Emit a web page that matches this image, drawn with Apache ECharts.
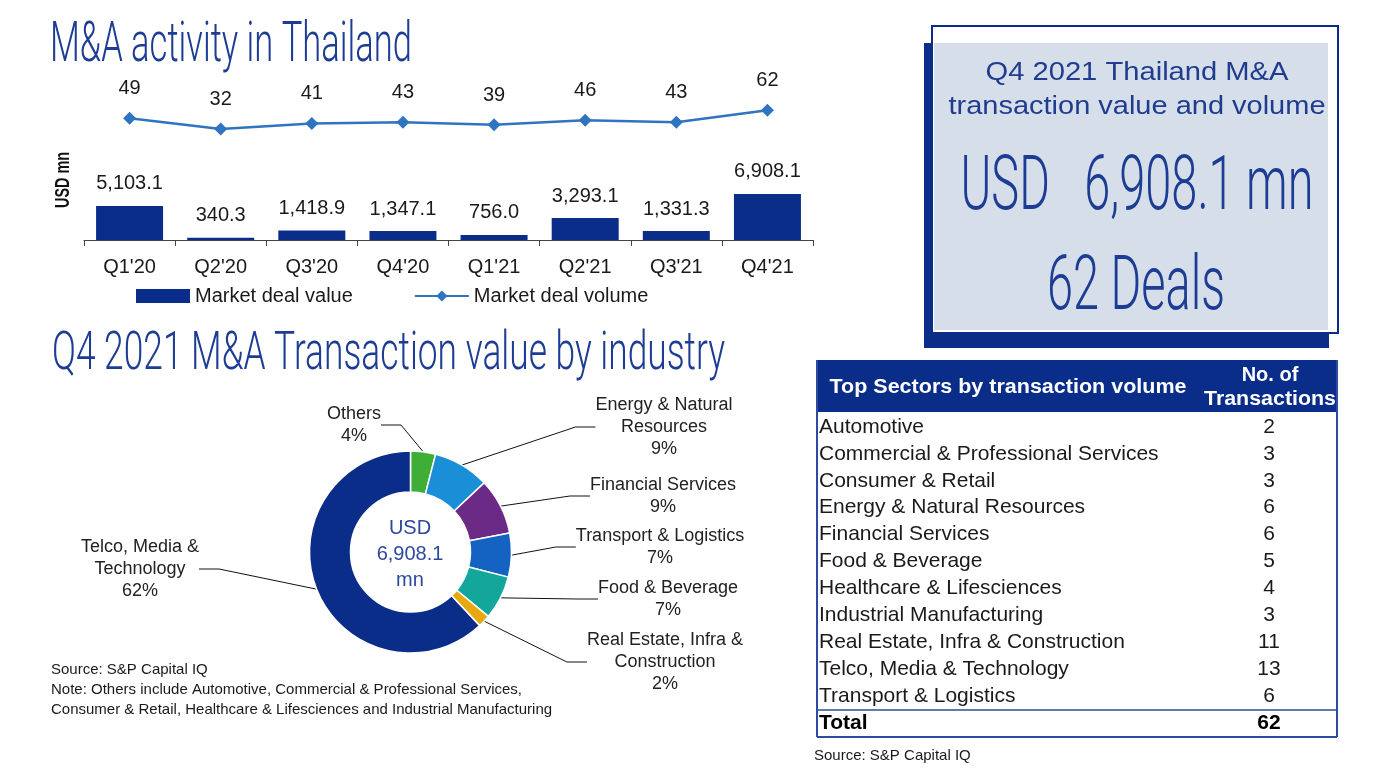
<!DOCTYPE html>
<html>
<head>
<meta charset="utf-8">
<script src="https://cdn.jsdelivr.net/npm/echarts@6/dist/echarts.min.js"></script>
<style>
html,body{margin:0;padding:0;background:#fff;}
#main{width:1383px;height:775px;}
</style>
</head>
<body>
<div id="main"></div>
<script>
// ---------- DATA ----------
const quarters = ["Q1'20", "Q2'20", "Q3'20", "Q4'20", "Q1'21", "Q2'21", "Q3'21", "Q4'21"];
const dealValue = [5103.1, 340.3, 1418.9, 1347.1, 756.0, 3293.1, 1331.3, 6908.1];
const dealVolume = [49, 32, 41, 43, 39, 46, 43, 62];

const industries = ['Others', 'Energy & Natural Resources', 'Financial Services', 'Transport & Logistics', 'Food & Beverage', 'Real Estate, Infra & Construction', 'Telco, Media & Technology'];
const industryLabelLines = [['Others'], ['Energy & Natural', 'Resources'], ['Financial Services'], ['Transport & Logistics'], ['Food & Beverage'], ['Real Estate, Infra &', 'Construction'], ['Telco, Media &', 'Technology']];
const industryShare = [4, 9, 9, 7, 7, 2, 62];
const totalValueText = '6,908.1';
const totalDealsText = '62';

const sectors = ['Automotive', 'Commercial & Professional Services', 'Consumer & Retail', 'Energy & Natural Resources', 'Financial Services', 'Food & Beverage', 'Healthcare & Lifesciences', 'Industrial Manufacturing', 'Real Estate, Infra & Construction', 'Telco, Media & Technology', 'Transport & Logistics'];
const sectorCounts = [2, 3, 3, 6, 6, 5, 4, 3, 11, 13, 6];
const sectorTotal = 62;

// ---------- STYLE ----------
const NAVY = '#0b2d8a';
const TITLE = '#1d3c94';
const LINEBLUE = '#2f74c0';
const FONT = "'Liberation Sans', Arial, sans-serif";
const pieColors = ['#3eae36', '#1a8fd8', '#6b2a86', '#1463c2', '#13a79b', '#e8a812', '#0b2d8a'];
const pieLabelPos = [[354, 425], [664, 427], [663, 496], [660, 547], [668, 599], [665, 662], [140, 569]];

const mctx = document.createElement('canvas').getContext('2d');
function fitScale(text, font, target) { mctx.font = font; return target / mctx.measureText(text).width; }

function thinText(text, x, y, size, width, align) {
  const font = '300 ' + size + 'px Roboto';
  return { type: 'text', x: x, y: y, scaleX: fitScale(text, font, width), z: 10,
    style: { text: text, font: font, fill: TITLE, align: align, textAlign: align, verticalAlign: 'middle', textVerticalAlign: 'middle' } };
}
function plainText(text, x, y, size, opts) {
  opts = opts || {};
  const weight = opts.weight || 'normal';
  const font = weight + ' ' + size + 'px ' + FONT;
  const el = { type: 'text', x: x, y: y, z: 10,
    style: { text: text, font: font, fill: opts.color || '#1a1a1a', align: opts.align || 'left', textAlign: opts.align || 'left', verticalAlign: 'middle', textVerticalAlign: 'middle' } };
  if (opts.width) el.scaleX = fitScale(text, font, opts.width);
  if (opts.rotation) el.rotation = opts.rotation;
  return el;
}

// ---------- GRAPHIC ----------
const g = [];
g.push(thinText('M&A activity in Thailand', 50, 47, 55, 362, 'left'));
g.push(thinText('Q4 2021 M&A Transaction value by industry', 52, 355, 54, 673, 'left'));
g.push(plainText('USD mn', 63, 180, 20, { weight: 'bold', rotation: Math.PI / 2, align: 'center', width: 56, color: '#111' }));

// summary box
g.push({ type: 'rect', shape: { x: 924, y: 43, width: 405, height: 305 }, style: { fill: NAVY }, z: 1 });
g.push({ type: 'rect', shape: { x: 932, y: 26, width: 406, height: 307 }, style: { fill: '#fff', stroke: NAVY, lineWidth: 2 }, z: 2 });
g.push({ type: 'rect', shape: { x: 934, y: 43, width: 394, height: 287 }, style: { fill: '#d6dee9' }, z: 3 });
g.push(plainText('Q4 2021 Thailand M&A', 1137, 73, 25, { align: 'center', width: 303, color: '#1f3c8f' }));
g.push(plainText('transaction value and volume', 1137, 107, 25, { align: 'center', width: 377, color: '#1f3c8f' }));
g.push(thinText('USD   ' + totalValueText + ' mn', 1137, 190, 76, 353, 'center'));
g.push(thinText(totalDealsText + ' Deals', 1136, 290, 76, 178, 'center'));

// pie centre text
g.push({ type: 'text', x: 410, y: 554, z: 10,
  style: { text: 'USD\n' + totalValueText + '\nmn', font: '20px ' + FONT, lineHeight: 26, fill: '#2c4a9c', align: 'center', textAlign: 'center', verticalAlign: 'middle', textVerticalAlign: 'middle' } });

// notes
g.push(plainText('Source: S&P Capital IQ', 51, 670, 15, { color: '#1a1a1a' }));
g.push(plainText('Note: Others include Automotive, Commercial & Professional Services,', 51, 690, 15, { color: '#1a1a1a' }));
g.push(plainText('Consumer & Retail, Healthcare & Lifesciences and Industrial Manufacturing', 51, 710, 15, { color: '#1a1a1a' }));
g.push(plainText('Source: S&P Capital IQ', 814, 756, 15, { color: '#1a1a1a' }));

// table
const tL = 817, tR = 1337, tTop = 360, hdrH = 52, rowH = 26.9;
const BORDER = '#2d4c9f';
g.push({ type: 'rect', shape: { x: tL, y: tTop, width: tR - tL, height: hdrH }, style: { fill: NAVY }, z: 4 });
g.push(plainText('Top Sectors by transaction volume', 1008, 387, 20, { weight: 'bold', color: '#fff', align: 'center', width: 357 }));
g.push(plainText('No. of', 1270, 375, 20, { weight: 'bold', color: '#fff', align: 'center' }));
g.push(plainText('Transactions', 1270, 399, 20, { weight: 'bold', color: '#fff', align: 'center', width: 132 }));
const rowStart = tTop + hdrH + 15;
sectors.forEach(function (s, i) {
  const y = rowStart + i * rowH;
  g.push(plainText(s, 819, y, 21));
  g.push(plainText(String(sectorCounts[i]), 1269, y, 21, { align: 'center' }));
});
const totalY = rowStart + sectors.length * rowH;
g.push(plainText('Total', 819, totalY, 21, { weight: 'bold', color: '#000' }));
g.push(plainText(String(sectorTotal), 1269, totalY, 21, { weight: 'bold', color: '#000', align: 'center' }));
const totalLineY = totalY - 13;
const tBottom = totalY + 14;
g.push({ type: 'line', shape: { x1: tL, y1: totalLineY, x2: tR, y2: totalLineY }, style: { stroke: BORDER, lineWidth: 1.5 }, z: 5 });
g.push({ type: 'line', shape: { x1: tL, y1: tBottom, x2: tR, y2: tBottom }, style: { stroke: BORDER, lineWidth: 2 }, z: 5 });
g.push({ type: 'line', shape: { x1: tL, y1: tTop, x2: tL, y2: tBottom }, style: { stroke: BORDER, lineWidth: 2 }, z: 5 });
g.push({ type: 'line', shape: { x1: tR, y1: tTop, x2: tR, y2: tBottom }, style: { stroke: BORDER, lineWidth: 2 }, z: 5 });

// ---------- CHART ----------
const chart = echarts.init(document.getElementById('main'), null, { renderer: 'canvas' });
const option = {
  animation: false,
  textStyle: { fontFamily: FONT },
  graphic: { elements: g },
  legend: {
    left: 131, top: 281, itemWidth: 54, itemHeight: 14, itemGap: 61,
    textStyle: { fontSize: 20, color: '#1a1a1a', fontFamily: FONT },
    data: [{ name: 'Market deal value', icon: 'rect' }, { name: 'Market deal volume' }]
  },
  grid: { left: 84, width: 729, top: 60, height: 180 },
  xAxis: {
    type: 'category', data: quarters,
    axisLine: { lineStyle: { color: '#444', width: 1 } },
    axisTick: { show: true, length: 6, lineStyle: { color: '#444' } },
    axisLabel: { fontSize: 20, color: '#1a1a1a', margin: 17, fontFamily: FONT }
  },
  yAxis: [
    { type: 'value', min: 0, max: 27000, show: false, splitLine: { show: false } },
    { type: 'value', min: -144, max: 141.6, show: false, splitLine: { show: false } }
  ],
  series: [
    {
      name: 'Market deal value', type: 'bar', data: dealValue, barWidth: 67,
      itemStyle: { color: NAVY },
      label: { show: true, position: 'top', distance: 12, fontSize: 20, color: '#1a1a1a', fontFamily: FONT,
        formatter: function (p) { return p.value.toLocaleString('en-US', { minimumFractionDigits: 1, maximumFractionDigits: 1 }); } }
    },
    {
      name: 'Market deal volume', type: 'line', yAxisIndex: 1, data: dealVolume,
      symbol: 'diamond', symbolSize: 13,
      lineStyle: { color: LINEBLUE, width: 2.5 }, itemStyle: { color: LINEBLUE },
      label: { show: true, position: 'top', distance: 13, fontSize: 20, color: '#1a1a1a', fontFamily: FONT }
    },
    {
      name: 'industry', type: 'pie', center: [410.5, 552], radius: [60, 101],
      startAngle: 90, clockwise: true, avoidLabelOverlap: false,
      itemStyle: { borderColor: '#fff', borderWidth: 1.5 },
      data: industries.map(function (n, i) { return { name: n, value: industryShare[i], itemStyle: { color: pieColors[i] } }; }),
      label: {
        show: true, position: 'outside', fontSize: 18, lineHeight: 22, color: '#222', fontFamily: FONT, align: 'center',
        formatter: function (p) { return industryLabelLines[p.dataIndex].join('\n') + '\n' + p.value + '%'; }
      },
      labelLine: { show: true, length: 20, length2: 20, lineStyle: { color: '#111', width: 1 } },
      labelLayout: function (p) {
        const pos = pieLabelPos[p.dataIndex];
        return { x: pos[0], y: pos[1], align: 'center', verticalAlign: 'middle' };
      }
    }
  ]
};
chart.setOption(option);
</script>
</body>
</html>
